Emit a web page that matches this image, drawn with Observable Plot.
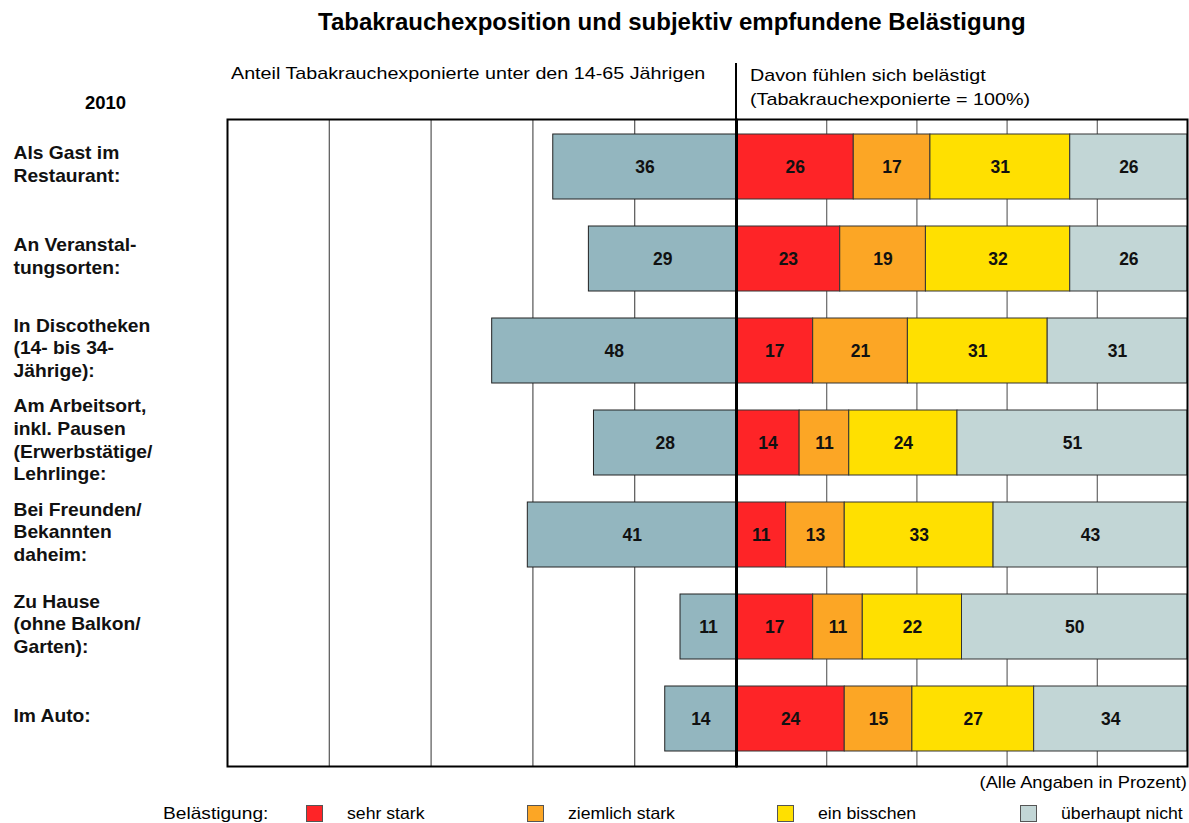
<!DOCTYPE html>
<html>
<head>
<meta charset="utf-8">
<script src="https://cdn.jsdelivr.net/npm/d3@7"></script>
<script src="https://cdn.jsdelivr.net/npm/@observablehq/plot@0.6"></script>
<style>
  html, body { margin: 0; padding: 0; background: #fff; }
  body { width: 1189px; height: 823px; position: relative; overflow: hidden;
         font-family: "Liberation Sans", Arial, sans-serif; color: #000; }
  .abs { position: absolute; white-space: nowrap; }
  .wide { display: inline-block; transform: scaleX(1.16); transform-origin: left center; }
  .wide2 { display: inline-block; transform: scaleX(1.07); transform-origin: left center; white-space: nowrap; }
  #title { left: 318px; top: 8px; font-size: 24px; font-weight: bold; }
  #year { left: 85px; top: 92px; font-size: 18.5px; font-weight: bold; }
  #hleft { left: 231px; top: 64px; font-size: 17px; }
  #hright { left: 750px; top: 64px; font-size: 17px; line-height: 24px; }
  #vline { left: 735px; top: 63px; width: 2px; height: 58px; background: #000; }
  #note { right: 2px; top: 773px; font-size: 17px; }
  #note span { display: inline-block; transform: scaleX(1.075); transform-origin: right center; }
  #legend { left: 163px; top: 804px; font-size: 16.5px; height: 20px; width: 1026px; }
  .lg-item { position: absolute; top: 0; display: flex; align-items: center; white-space: nowrap; }
  .sw { width: 17px; height: 17px; box-sizing: border-box; border: 1px solid #555; margin-right: 24px; flex: none; }
  #left, #right { position: absolute; top: 56px; }
  #left { left: 0; }
  #right { left: 736px; }
</style>
</head>
<body>
<div id="title" class="abs">Tabakrauchexposition und subjektiv empfundene Belästigung</div>
<div id="hleft" class="abs"><span class="wide">Anteil Tabakrauchexponierte unter den 14-65 Jährigen</span></div>
<div id="hright" class="abs"><span class="wide">Davon fühlen sich belästigt</span><br><span class="wide">(Tabakrauchexponierte = 100%)</span></div>
<div id="year" class="abs">2010</div>
<div id="vline" class="abs"></div>
<div id="left"></div>
<div id="right"></div>
<div id="note" class="abs"><span>(Alle Angaben in Prozent)</span></div>
<div id="legend" class="abs"></div>
<script>
// ---- data ----
const categories = [
  "Als Gast im\nRestaurant:",
  "An Veranstal-\ntungsorten:",
  "In Discotheken\n(14- bis 34-\nJährige):",
  "Am Arbeitsort,\ninkl. Pausen\n(Erwerbstätige/\nLehrlinge:",
  "Bei Freunden/\nBekannten\ndaheim:",
  "Zu Hause\n(ohne Balkon/\nGarten):",
  "Im Auto:"
];
const exposure = [36, 29, 48, 28, 41, 11, 14];
const levels = ["sehr stark", "ziemlich stark", "ein bisschen", "überhaupt nicht"];
const sehrStark = [26, 23, 17, 14, 11, 17, 24];
const ziemlichStark = [17, 19, 21, 11, 13, 11, 15];
const einBisschen = [31, 32, 31, 24, 33, 22, 27];
const ueberhauptNicht = [26, 26, 31, 51, 43, 50, 34];
const levelColors = ["#fe2427", "#fca625", "#ffe000", "#c2d6d6"];
const exposureColor = "#93b6bf";
const gridTicks = [20, 40, 60, 80];

// ---- tables ----
const leftRows = categories.map((c, i) => ({category: c, value: exposure[i]}));
const series = [sehrStark, ziemlichStark, einBisschen, ueberhauptNicht];
const rightRows = [];
categories.forEach((c, i) => {
  levels.forEach((l, j) => rightRows.push({category: c, level: l, value: series[j][i]}));
});

const font = "'Liberation Sans', Arial, sans-serif";
const yScale = {domain: categories, paddingInner: 0.29, paddingOuter: 0.145, axis: null};
const H = 714, MT = 63, MB = 4;

const leftPlot = Plot.plot({
  width: 737, height: H,
  marginLeft: 227, marginRight: 1, marginTop: MT, marginBottom: MB,
  style: {fontFamily: font, background: "transparent", overflow: "visible"},
  x: {domain: [0, 100], reverse: true, axis: null},
  y: yScale,
  marks: [
    Plot.gridX(gridTicks, {stroke: "#555", strokeOpacity: 1, strokeWidth: 1.2}),
    Plot.barX(leftRows, {x: "value", y: "category", fill: exposureColor, stroke: "#222", strokeWidth: 1}),
    Plot.text(leftRows, {x: d => d.value / 2, y: "category", text: d => String(d.value),
      fontWeight: "bold", fontSize: 17.5, fill: "#111"}),
    Plot.text(categories, {y: d => d, text: d => d, frameAnchor: "left", dx: -214, dy: -4,
      textAnchor: "start", lineAnchor: "middle", fontWeight: "bold", fontSize: 17.5, lineHeight: 1.3,
      fill: "#111"}),
    Plot.frame({stroke: "#000", strokeWidth: 2})
  ]
});
// slightly widen category labels, like the reference lettering
d3.select(leftPlot).selectAll("text")
  .filter(function() { return isNaN(+this.textContent); })
  .attr("transform", function() { return (this.getAttribute("transform") || "") + " scale(1.1,1)"; });
document.getElementById("left").appendChild(leftPlot);

const rightPlot = Plot.plot({
  width: 453, height: H,
  marginLeft: 0, marginRight: 2, marginTop: MT, marginBottom: MB,
  style: {fontFamily: font, background: "transparent", overflow: "visible"},
  x: {domain: [0, 100], axis: null},
  y: yScale,
  color: {domain: levels, range: levelColors},
  marks: [
    Plot.gridX(gridTicks, {stroke: "#666", strokeOpacity: 1, strokeWidth: 1.2}),
    Plot.barX(rightRows, Plot.stackX({x: "value", y: "category", z: "level", fill: "level", stroke: "#333", strokeWidth: 1})),
    Plot.text(rightRows, Plot.stackX({x: "value", y: "category", z: "level", text: d => String(d.value),
      fontWeight: "bold", fontSize: 17.5, fill: "#111"})),
    Plot.frame({stroke: "#000", strokeWidth: 2}),
    Plot.ruleX([0], {stroke: "#000", strokeWidth: 3})
  ]
});
document.getElementById("right").appendChild(rightPlot);

// ---- legend ----
const legend = document.getElementById("legend");
const lab = document.createElement("div");
lab.className = "lg-item"; lab.style.left = "0px";
lab.innerHTML = '<span class="wide">Belästigung:</span>';
legend.appendChild(lab);
const legendX = [143, 364, 614, 857];
levels.forEach((l, i) => {
  const it = document.createElement("div");
  it.className = "lg-item"; it.style.left = legendX[i] + "px";
  const sw = document.createElement("div");
  sw.className = "sw"; sw.style.background = levelColors[i];
  it.appendChild(sw);
  const t = document.createElement("span"); t.className = "wide2"; t.textContent = l;
  it.appendChild(t);
  legend.appendChild(it);
});
</script>
</body>
</html>
